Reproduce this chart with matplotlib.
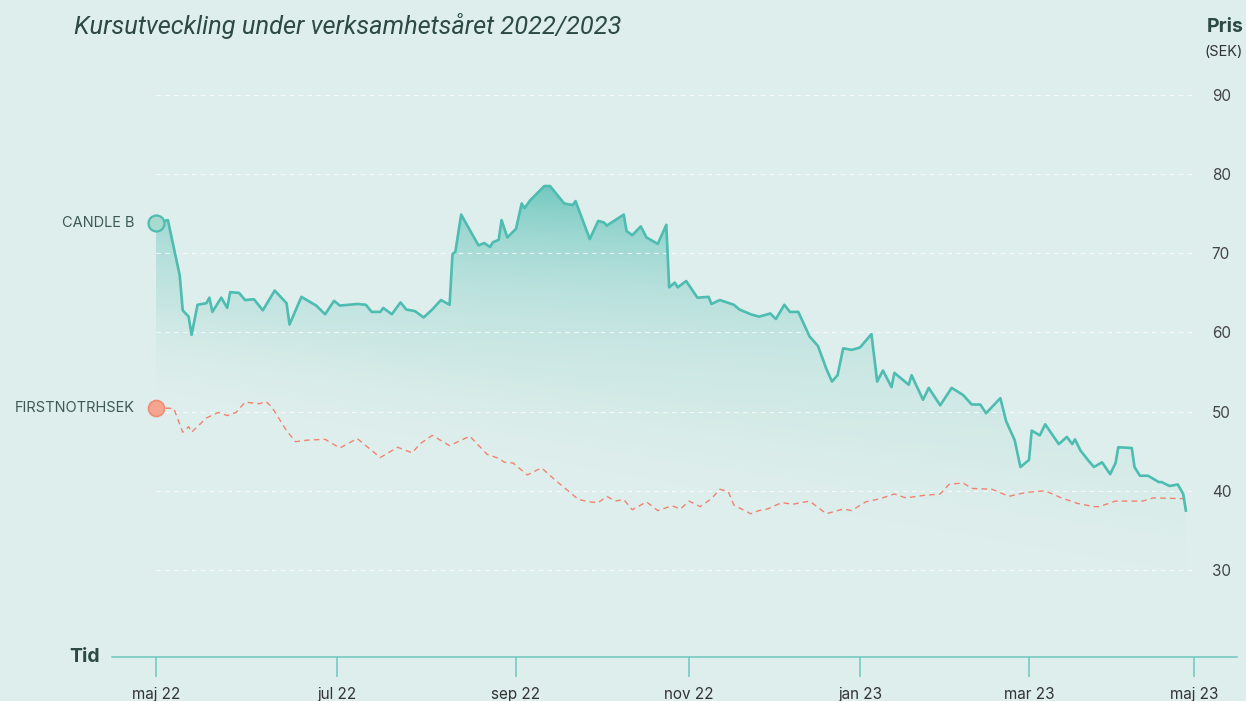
import datetime as dt
import numpy as np
import matplotlib
matplotlib.use("Agg")
import matplotlib.pyplot as plt
import matplotlib.dates as mdates
from matplotlib.lines import Line2D
from matplotlib.colors import to_rgb

# ---------------- data ----------------
start_date = "2022-05-01"
subtitle = "Kursutveckling under verksamhetsåret 2022/2023"
series_names = ["CANDLE B", "FIRSTNOTRHSEK"]

# days since start_date
candle_days = [0, 4, 8, 9, 11, 12, 14, 17, 18, 19, 22, 24, 25, 28, 30, 33, 36, 40, 44, 45,
               49, 54, 57, 60, 62, 68, 71, 73, 76, 77, 80, 83, 85, 88, 91, 94, 97, 100, 101, 102,
               104, 110, 112, 114, 115, 117, 118, 120, 123, 125, 126, 128, 133, 135, 140, 143, 144, 149, 152, 154,
               155, 161, 162, 164, 167, 169, 173, 176, 177, 179, 180, 183, 187, 191, 192, 195, 200, 202, 206, 209,
               213, 215, 218, 220, 223, 227, 230, 233, 235, 237, 239, 242, 245, 249, 251, 253, 256, 257, 262, 263,
               267, 269, 273, 277, 281, 284, 287, 289, 294, 296, 299, 301, 304, 305, 308, 310, 315, 318, 320, 321,
               323, 326, 328, 331, 334, 336, 337, 342, 343, 345, 348, 352, 353, 356, 359, 361, 362]
candle_vals = [73.8, 74.2, 67.2, 62.8, 62.0, 59.7, 63.5, 63.7, 64.4, 62.6, 64.4, 63.1, 65.1, 65.0, 64.1, 64.2, 62.8, 65.3, 63.7, 61.0,
               64.5, 63.4, 62.3, 64.0, 63.4, 63.6, 63.5, 62.6, 62.6, 63.1, 62.3, 63.8, 62.9, 62.7, 61.9, 62.9, 64.1, 63.5, 69.9, 70.2,
               74.9, 71.0, 71.3, 70.8, 71.4, 71.7, 74.2, 72.0, 73.1, 76.3, 75.7, 76.7, 78.5, 78.5, 76.3, 76.1, 76.6, 71.8, 74.1, 73.9,
               73.5, 74.9, 72.8, 72.3, 73.4, 72.0, 71.2, 73.6, 65.7, 66.3, 65.7, 66.5, 64.4, 64.5, 63.6, 64.1, 63.5, 62.9, 62.3, 62.0,
               62.4, 61.7, 63.5, 62.6, 62.6, 59.5, 58.3, 55.4, 53.8, 54.6, 58.0, 57.8, 58.1, 59.8, 53.8, 55.2, 53.1, 54.9, 53.4, 54.6,
               51.5, 53.0, 50.8, 53.0, 52.1, 50.9, 50.9, 49.8, 51.7, 48.8, 46.4, 43.0, 43.9, 47.6, 47.0, 48.4, 45.9, 46.8, 45.9, 46.5,
               45.1, 43.8, 43.0, 43.6, 42.1, 43.5, 45.5, 45.4, 43.0, 41.9, 41.9, 41.1, 41.1, 40.6, 40.8, 39.6, 37.5]

first_days = [0, 6, 9, 11, 12, 17, 21, 24, 27, 30, 35, 37, 39, 44, 47, 51, 57, 62, 68, 76,
              82, 87, 90, 94, 100, 107, 113, 117, 119, 122, 127, 132, 137, 145, 149, 152, 155, 158, 161, 164,
              169, 173, 178, 181, 184, 188, 192, 195, 198, 200, 206, 209, 212, 217, 221, 227, 233, 239, 242, 247,
              252, 257, 261, 267, 273, 276, 281, 284, 291, 297, 303, 310, 316, 322, 328, 330, 336, 346, 350, 362]
first_vals = [50.5, 50.4, 47.4, 48.1, 47.4, 49.2, 49.9, 49.5, 49.9, 51.2, 51.0, 51.3, 50.6, 47.6, 46.2, 46.4, 46.5, 45.4, 46.6, 44.2,
              45.5, 44.8, 46.0, 47.0, 45.7, 46.9, 44.6, 44.1, 43.6, 43.5, 42.0, 42.9, 41.3, 38.9, 38.6, 38.5, 39.3, 38.7, 38.9, 37.6,
              38.6, 37.5, 38.1, 37.7, 38.7, 38.0, 39.0, 40.2, 39.9, 38.2, 37.1, 37.5, 37.7, 38.5, 38.3, 38.7, 37.1, 37.7, 37.5, 38.6,
              39.0, 39.6, 39.1, 39.4, 39.6, 40.8, 41.0, 40.3, 40.2, 39.3, 39.8, 40.0, 39.1, 38.4, 38.0, 38.0, 38.7, 38.7, 39.1, 39.0]

y_ticks = [30, 40, 50, 60, 70, 80, 90]
x_tick_dates = ["2022-05-01", "2022-07-01", "2022-09-01", "2022-11-01",
                "2023-01-01", "2023-03-01", "2023-05-01"]
x_tick_labels = ["maj 22", "jul 22", "sep 22", "nov 22", "jan 23", "mar 23", "maj 23"]

# ---------------- layout / styling ----------------
W, H = 1246, 701
BG = "#deeeec"
TEAL = "#4dbcb1"
TEAL_AX = "#6cc8bf"
RED = "#f0836f"
DARK = "#2c4a42"
plt.rcParams["font.family"] = ["Inter", "DejaVu Sans"]

# horizontal pixel positions of the month ticks in the reference (layout)
tick_px = np.array([156, 337, 516, 689, 860, 1029, 1194], float)

fig = plt.figure(figsize=(W / 100, H / 100), dpi=100)
fig.patch.set_facecolor(BG)


def fx(px):
    return px / W


def fy(py):
    return 1 - py / H


ymin, ymax = 19, 92
AX_L, AX_R = 156, 1195
ax = fig.add_axes([fx(AX_L), fy(657), fx(AX_R) - fx(AX_L), fy(79.2) - fy(657)])
ax.set_facecolor("none")

tick_nums = np.array([mdates.date2num(dt.datetime.fromisoformat(d)) for d in x_tick_dates])
kx = np.concatenate([[tick_nums[0] - 1000], tick_nums, [tick_nums[-1] + 1000]])
kp = np.concatenate([[tick_px[0] - 1000 * 2.97], tick_px, [tick_px[-1] + 1000 * 2.7]])


def fwd(x):
    return np.interp(x, kx, kp)


def inv(p):
    return np.interp(p, kp, kx)


ax.set_xscale("function", functions=(fwd, inv))

t0 = dt.datetime.fromisoformat(start_date)
cx = [t0 + dt.timedelta(days=d) for d in candle_days]
fxd = [t0 + dt.timedelta(days=d) for d in first_days]

# lines
ax.plot(fxd, first_vals, color=RED, lw=1.0, dashes=(4, 3), zorder=3)
ax.plot(cx, candle_vals, color=TEAL, lw=1.9, zorder=4, solid_joinstyle="round")

# gradient area under CANDLE B (gradient defined in axes space, fades diagonally)
nx, ny = 400, 400
ax_x = np.linspace(0, 1, nx)
ax_y = np.linspace(0, 1, ny)
GX, GY = np.meshgrid(ax_x, ax_y)
val = ymin + GY * (ymax - ymin)
top_fade = np.exp(-(79.0 - (val + 8.0 * GX - 4.0)) / 12.0)
v_zero = 52.0 - 25.0 * GX
bottom_fade = np.clip((val - v_zero) / 12.0, 0, 1)
alpha = np.clip(0.85 * top_fade, 0, 0.85) * bottom_fade
rgba = np.zeros((ny, nx, 4))
rgba[..., :3] = to_rgb(TEAL)
rgba[..., 3] = alpha
poly = ax.fill_between(cx, candle_vals, ymin, facecolor="none", edgecolor="none")
im = ax.imshow(rgba, extent=[0, 1, 0, 1], origin="lower", aspect="auto",
               transform=ax.transAxes, zorder=1, interpolation="bilinear")
im.set_clip_path(poly.get_paths()[0], transform=ax.transData)

# start markers
ax.plot([cx[0]], [candle_vals[0]], "o", ms=11.5, mfc="#a8dbcf", mec=TEAL, mew=1.6,
        zorder=5, clip_on=False)
ax.plot([fxd[0]], [first_vals[0]], "o", ms=11.5, mfc="#f4a690", mec="#f08b76", mew=1.2,
        zorder=5, clip_on=False)

ax.annotate(series_names[0], xy=(cx[0], candle_vals[0]), xytext=(-22, 0),
            textcoords="offset pixels", ha="right", va="center",
            fontsize=10.5, color="#3e5a53")
ax.annotate(series_names[1], xy=(fxd[0], first_vals[0]), xytext=(-21, 0),
            textcoords="offset pixels", ha="right", va="center",
            fontsize=10.5, color="#3e5a53")

# axes
ax.set_xlim(tick_nums[0], inv(AX_R))
ax.set_ylim(ymin, ymax)
for s in ax.spines.values():
    s.set_visible(False)
ax.set_yticks(y_ticks)
ax.yaxis.tick_right()
ax.tick_params(axis="y", length=0, pad=12, labelsize=11, labelcolor="#444444")
ax.yaxis.grid(True, color="white", alpha=0.75, lw=0.8, linestyle=(0, (4, 4)))
ax.xaxis.grid(False)
ax.set_xticks(tick_nums)
ax.set_xticklabels(x_tick_labels)
ax.xaxis.set_minor_locator(matplotlib.ticker.NullLocator())
ax.tick_params(axis="x", length=14.4, width=1.1, color=TEAL_AX, pad=7,
               labelsize=11, labelcolor="#333333")

# bottom axis line (extends beyond plot area)
fig.add_artist(Line2D([fx(112), fx(1237)], [fy(657), fy(657)], color=TEAL_AX, lw=1.1,
                      transform=fig.transFigure))

fig.text(fx(69), fy(657), "Tid", ha="left", va="center", fontsize=14,
         fontweight="bold", color=DARK)
fig.text(fx(1207), fy(27), "Pris", ha="left", va="center", fontsize=14,
         fontweight="bold", color=DARK)
fig.text(fx(1205), fy(52), "(SEK)", ha="left", va="center", fontsize=10.5,
         color="#333333")
fig.text(fx(74), fy(26), subtitle, ha="left", va="center", fontsize=18.3,
         style="italic", color=DARK, family=["Roboto", "DejaVu Sans"])

fig.savefig("out.png", dpi=100, facecolor=BG)
